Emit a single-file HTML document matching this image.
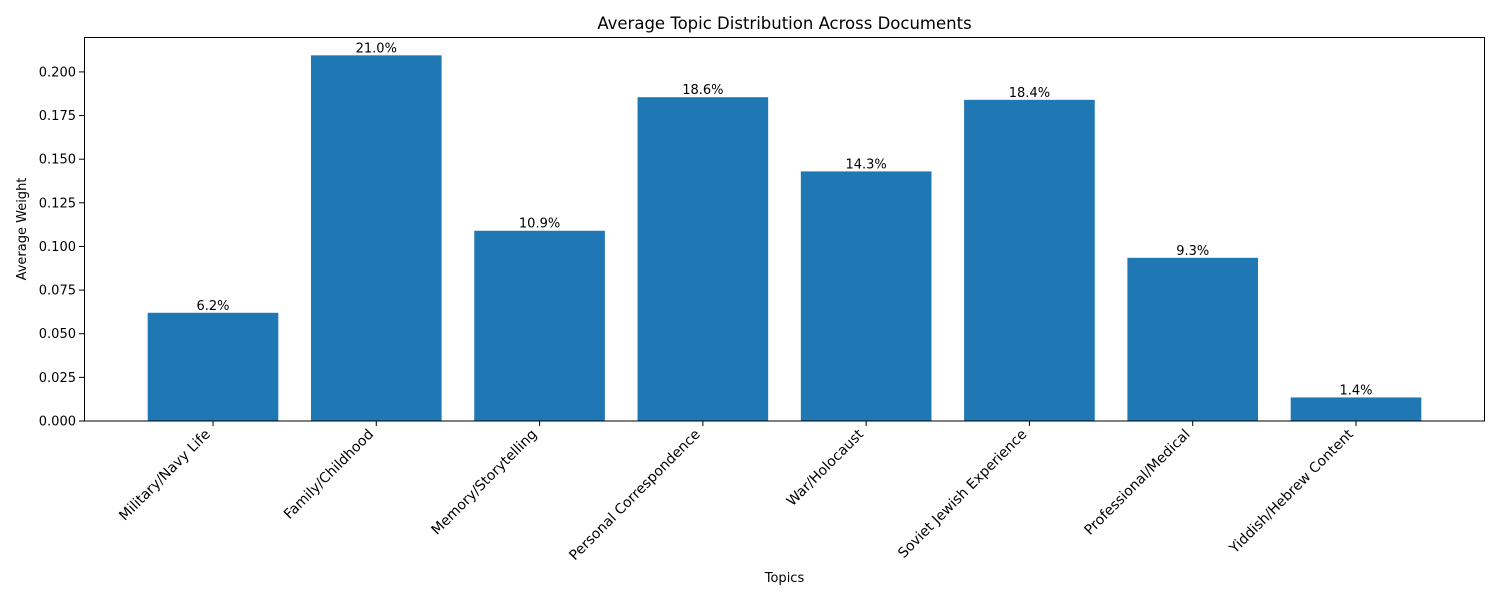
<!DOCTYPE html>
<html><head><meta charset="utf-8"><style>
html,body{margin:0;padding:0;background:#fff;}
svg text{font-family:"DejaVu Sans","Liberation Sans",sans-serif;fill:#000;}
</style></head><body>
<svg id="chart" width="1500" height="600" xmlns="http://www.w3.org/2000/svg">
<rect x="0" y="0" width="1500" height="600" fill="#fff"/>
<text x="784.5" y="29" font-size="16.5" text-anchor="middle">Average Topic Distribution Across Documents</text>
<text transform="translate(26,229) rotate(-90)" font-size="13" text-anchor="middle">Average Weight</text>
<text x="784.5" y="582" font-size="13" text-anchor="middle">Topics</text>
<g id="plot"></g>
<rect x="84.5" y="37.5" width="1400" height="383.5" fill="none" stroke="#000" stroke-width="1"/>
</svg>
<script>
const categories = ["Military/Navy Life","Family/Childhood","Memory/Storytelling","Personal Correspondence","War/Holocaust","Soviet Jewish Experience","Professional/Medical","Yiddish/Hebrew Content"];
const values = [0.062, 0.2095, 0.109, 0.1855, 0.143, 0.184, 0.0935, 0.0135];
const valueLabels = ["6.2%","21.0%","10.9%","18.6%","14.3%","18.4%","9.3%","1.4%"];
const yTicks = [0, 0.025, 0.05, 0.075, 0.1, 0.125, 0.15, 0.175, 0.2];
const yTickLabels = ["0.000","0.025","0.050","0.075","0.100","0.125","0.150","0.175","0.200"];

const L=84,R=1485,T=37,B=421;
const xmin=-0.79,xmax=7.79,ymax=0.22;
const xs=i=>L+(i-xmin)/(xmax-xmin)*(R-L);
const ys=v=>B-v/ymax*(B-T);
const NS="http://www.w3.org/2000/svg";
const g=document.getElementById('plot');
function mk(t,a){const e=document.createElementNS(NS,t);for(const k in a)e.setAttribute(k,a[k]);g.appendChild(e);return e;}
const bw=0.8*(R-L)/(xmax-xmin);
values.forEach((v,i)=>{
  const b=mk('rect',{x:xs(i)-bw/2,y:ys(v),width:bw,height:B-ys(v),fill:'#1f77b4'});
  
  
  const t=mk('text',{x:xs(i),y:ys(v)-3,'font-size':13,'text-anchor':'middle'});
  t.textContent=valueLabels[i];
  
  
  const tk=mk('line',{x1:xs(i),x2:xs(i),y1:B,y2:B+5,stroke:'#000'});
  
  
  const lb=mk('text',{transform:`translate(${xs(i)-2},${B+14}) rotate(-45)`,'font-size':14,'text-anchor':'end'});
  lb.textContent=categories[i];
  
  
});
yTicks.forEach((v,i)=>{
  const tk=mk('line',{x1:L-5,x2:L,y1:ys(v),y2:ys(v),stroke:'#000'});
  
  
  const t=mk('text',{x:L-8,y:ys(v)+4.5,'font-size':13,'text-anchor':'end'});
  t.textContent=yTickLabels[i];
  
  
});
</script>
</body></html>
